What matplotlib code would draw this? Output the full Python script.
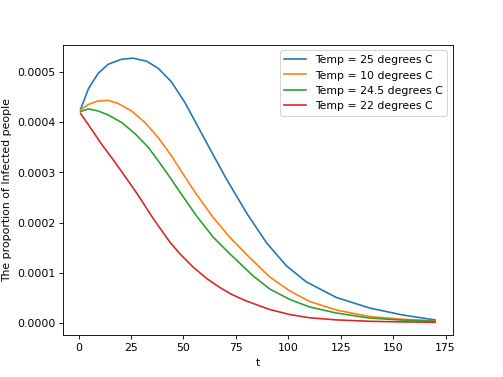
import matplotlib
matplotlib.use("Agg")
import matplotlib.pyplot as plt
import numpy as np

labels = ["Temp = 25 degrees C", "Temp = 10 degrees C",
          "Temp = 24.5 degrees C", "Temp = 22 degrees C"]

t_blue = [1, 4.7, 9.4, 14.2, 20.6, 26.1, 32.5, 38, 44.3, 50.7, 54.6, 62.6, 70.5, 80,
          89.6, 99.1, 108.6, 122.9, 138.7, 154.6, 170]
v_blue = [4.25, 4.66, 4.97, 5.15, 5.25, 5.27, 5.21, 5.07, 4.80, 4.39, 4.09, 3.47, 2.87,
          2.20, 1.60, 1.14, 0.82, 0.51, 0.30, 0.16, 0.062]

t_orange = [1, 4.7, 9.4, 14.2, 18.9, 25.3, 31.7, 38, 44.3, 51.5, 56.3, 64.2, 72.1, 80,
            91.1, 100.7, 110.2, 122.9, 138.7, 154.6, 170]
v_orange = [4.24, 4.35, 4.42, 4.43, 4.37, 4.22, 3.99, 3.69, 3.33, 2.86, 2.56, 2.10, 1.71,
            1.37, 0.92, 0.64, 0.43, 0.26, 0.13, 0.075, 0.045]

t_green = [1, 4.7, 9.4, 14.2, 20.6, 26.9, 33.2, 38, 43.6, 48.3, 56.3, 64.2, 72.1,
           83.2, 91.1, 100.7, 110.2, 122.9, 138.7, 154.6, 170]
v_green = [4.21, 4.26, 4.22, 4.14, 3.99, 3.77, 3.50, 3.23, 2.90, 2.61, 2.13, 1.71,
           1.38, 0.94, 0.68, 0.47, 0.32, 0.20, 0.10, 0.058, 0.035]

t_red = [1, 6.3, 11, 17.4, 27.7, 35.6, 43.4, 48.3, 54.5, 61, 67.3, 73, 80, 91.1,
         100.7, 110.2, 122.9, 138.7, 154.6, 170]
v_red = [4.17, 3.85, 3.56, 3.20, 2.59, 2.08, 1.62, 1.38, 1.12, 0.89, 0.71, 0.57,
         0.44, 0.27, 0.17, 0.105, 0.063, 0.035, 0.022, 0.015]

scale = 1e-4

fig, ax = plt.subplots(figsize=(6.4, 4.8), dpi=78.6)
for t, v, lab in [(t_blue, v_blue, labels[0]), (t_orange, v_orange, labels[1]),
                  (t_green, v_green, labels[2]), (t_red, v_red, labels[3])]:
    ax.plot(t, np.array(v) * scale, label=lab)

ax.set_xlabel("t")
ax.set_ylabel("The proportion of Infected people")
ax.legend(loc="upper right")
fig.savefig("out.png", dpi=78.6)
